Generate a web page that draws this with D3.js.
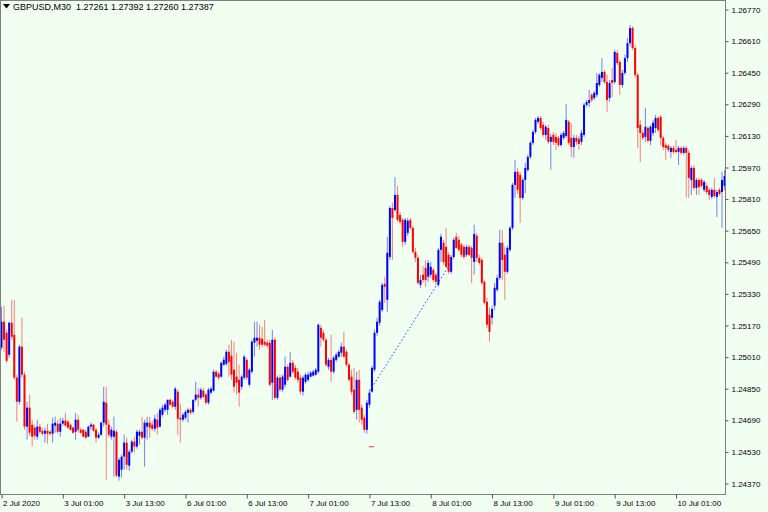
<!DOCTYPE html>
<html><head><meta charset="utf-8">
<script src="https://cdn.jsdelivr.net/npm/d3@7/dist/d3.min.js"></script>
<style>html,body{margin:0;padding:0;background:#f0fff0}svg{display:block}</style>
</head><body>
<svg id="chart" width="768" height="512"></svg>
<script>
// ---------- data ----------
const symbolTitle = "GBPUSD,M30";
const headerQuote = ["1.27261", "1.27392", "1.27260", "1.27387"];
const priceTicks = [1.26770, 1.26610, 1.26450, 1.26290, 1.26130, 1.25970, 1.25810, 1.25650,
                    1.25490, 1.25330, 1.25170, 1.25010, 1.24850, 1.24690, 1.24530, 1.24370];
const timeTickBars = [0, 24, 48, 72, 96, 120, 144, 168, 192, 216, 240, 264];
const timeTickLabels = ["2 Jul 2020", "3 Jul 01:00", "3 Jul 13:00", "6 Jul 01:00", "6 Jul 13:00", "7 Jul 01:00",
                        "7 Jul 13:00", "8 Jul 01:00", "8 Jul 13:00", "9 Jul 01:00", "9 Jul 13:00", "10 Jul 01:00"];

const open = [
1.25058,1.25189,1.25133,1.25022,1.25184,1.25123,1.24906,1.24784,1.25063,1.24921,
1.24658,1.24754,1.24668,1.24653,1.24607,1.24658,1.24637,1.24622,1.24637,1.24632,
1.24622,1.24663,1.24673,1.24632,1.24673,1.24688,1.24683,1.24668,1.24653,1.24632,
1.24693,1.24642,1.24642,1.24632,1.24607,1.24658,1.24668,1.24642,1.24602,1.24617,
1.24678,1.24779,1.24668,1.24607,1.24607,1.24632,1.24405,1.24440,1.24506,1.24577,
1.24460,1.24531,1.24582,1.24557,1.24612,1.24632,1.24602,1.24658,1.24678,1.24668,
1.24647,1.24693,1.24658,1.24718,1.24743,1.24743,1.24794,1.24784,1.24759,1.24835,
1.24703,1.24693,1.24703,1.24728,1.24743,1.24733,1.24794,1.24820,1.24804,1.24840,
1.24820,1.24779,1.24830,1.24840,1.24936,1.24926,1.24911,1.24971,1.24976,1.25037,
1.25017,1.24946,1.24911,1.24895,1.24860,1.24906,1.24996,1.24870,1.24936,1.25083,
1.25093,1.25108,1.25103,1.25088,1.25083,1.25083,1.24880,1.25098,1.24804,1.24906,
1.24845,1.24870,1.24961,1.24911,1.24981,1.24956,1.24936,1.24906,1.24835,1.24885,
1.24895,1.24911,1.24916,1.24921,1.24936,1.25158,1.25133,1.25098,1.24961,1.24996,
1.24936,1.24996,1.25012,1.25032,1.25063,1.25037,1.24971,1.24911,1.24845,1.24743,
1.24895,1.24754,1.24703,1.24642,1.24769,1.24835,1.24946,1.25133,1.25184,1.25249,
1.25381,1.25300,1.25517,1.25765,1.25755,1.25831,1.25730,1.25705,1.25594,1.25639,
1.25705,1.25664,1.25543,1.25513,1.25376,1.25427,1.25462,1.25417,1.25427,1.25452,
1.25427,1.25376,1.25553,1.25589,1.25568,1.25528,1.25442,1.25517,1.25619,1.25604,
1.25579,1.25568,1.25528,1.25568,1.25563,1.25492,1.25624,1.25513,1.25502,1.25391,
1.25290,1.25224,1.25209,1.25270,1.25351,1.25411,1.25589,1.25528,1.25442,1.25553,
1.25664,1.25882,1.25948,1.25933,1.25816,1.25907,1.25958,1.26024,1.26095,1.26150,
1.26201,1.26221,1.26186,1.26135,1.26170,1.26100,1.26135,1.26125,1.26120,1.26084,
1.26120,1.26130,1.26201,1.26120,1.26074,1.26120,1.26115,1.26100,1.26135,1.26287,
1.26297,1.26338,1.26322,1.26338,1.26388,1.26424,1.26454,1.26403,1.26322,1.26413,
1.26403,1.26550,1.26504,1.26388,1.26449,1.26524,1.26600,1.26676,1.26575,1.26439,
1.26186,1.26145,1.26125,1.26170,1.26105,1.26145,1.26170,1.26221,1.26226,1.26120,
1.26084,1.26079,1.26049,1.26069,1.26059,1.26049,1.26069,1.26044,1.26069,1.26044,
1.25907,1.25968,1.25867,1.25907,1.25907,1.25857,1.25877,1.25857,1.25821,1.25857,
1.25821,1.25857,1.25846,1.25877];
const high = [
1.25265,1.25270,1.25148,1.25189,1.25300,1.25300,1.24921,1.25073,1.25209,1.24936,
1.24784,1.24820,1.24693,1.24668,1.24693,1.24673,1.24653,1.24653,1.24673,1.24642,
1.24703,1.24708,1.24693,1.24703,1.24703,1.24728,1.24693,1.24673,1.24658,1.24728,
1.24718,1.24653,1.24647,1.24642,1.24663,1.24678,1.24673,1.24653,1.24627,1.24683,
1.24860,1.24860,1.24693,1.24658,1.24708,1.24642,1.24501,1.24516,1.24617,1.24602,
1.24541,1.24592,1.24607,1.24642,1.24642,1.24708,1.24693,1.24708,1.24708,1.24688,
1.24718,1.24728,1.24754,1.24769,1.24779,1.24794,1.24799,1.24794,1.24860,1.24845,
1.24774,1.24728,1.24743,1.24754,1.24754,1.24794,1.24885,1.24855,1.24855,1.24855,
1.24830,1.24855,1.24860,1.24946,1.24946,1.24936,1.24986,1.25012,1.25047,1.25073,
1.25098,1.25088,1.25032,1.24971,1.24921,1.25022,1.25007,1.24956,1.25098,1.25189,
1.25189,1.25174,1.25164,1.25199,1.25098,1.25098,1.25148,1.25108,1.24916,1.24921,
1.24921,1.25012,1.24971,1.25037,1.24996,1.24971,1.24956,1.24921,1.24916,1.24931,
1.24936,1.24941,1.24946,1.24956,1.25179,1.25174,1.25148,1.25108,1.25007,1.25123,
1.25017,1.25032,1.25047,1.25083,1.25138,1.25047,1.24981,1.24946,1.24956,1.24936,
1.24946,1.24769,1.24718,1.24794,1.24845,1.24966,1.25148,1.25209,1.25300,1.25386,
1.25416,1.25619,1.25775,1.25791,1.25922,1.25877,1.25745,1.25715,1.25715,1.25715,
1.25715,1.25674,1.25563,1.25528,1.25427,1.25472,1.25502,1.25502,1.25492,1.25462,
1.25437,1.25563,1.25634,1.25604,1.25664,1.25543,1.25528,1.25614,1.25639,1.25624,
1.25589,1.25579,1.25579,1.25579,1.25574,1.25680,1.25639,1.25528,1.25513,1.25401,
1.25310,1.25259,1.25270,1.25386,1.25427,1.25654,1.25654,1.25568,1.25574,1.25674,
1.25892,1.26008,1.25968,1.25948,1.25917,1.25993,1.26034,1.26105,1.26160,1.26221,
1.26231,1.26231,1.26201,1.26186,1.26186,1.26140,1.26150,1.26145,1.26130,1.26145,
1.26155,1.26292,1.26211,1.26196,1.26135,1.26135,1.26130,1.26160,1.26297,1.26312,
1.26363,1.26348,1.26358,1.26449,1.26449,1.26524,1.26464,1.26439,1.26413,1.26474,
1.26565,1.26565,1.26514,1.26464,1.26540,1.26626,1.26691,1.26686,1.26590,1.26449,
1.26211,1.26160,1.26272,1.26181,1.26186,1.26211,1.26236,1.26231,1.26236,1.26130,
1.26095,1.26089,1.26079,1.26079,1.26110,1.26079,1.26079,1.26079,1.26079,1.26059,
1.25978,1.25983,1.25917,1.25917,1.25917,1.25907,1.25892,1.25867,1.25867,1.25917,
1.25857,1.25867,1.25948,1.25958];
const low = [
1.25047,1.25037,1.24981,1.25007,1.25098,1.24895,1.24683,1.24769,1.24906,1.24642,
1.24592,1.24612,1.24557,1.24592,1.24592,1.24622,1.24612,1.24577,1.24572,1.24612,
1.24577,1.24627,1.24622,1.24607,1.24663,1.24658,1.24647,1.24637,1.24622,1.24592,
1.24627,1.24622,1.24607,1.24596,1.24607,1.24642,1.24632,1.24577,1.24596,1.24612,
1.24658,1.24389,1.24602,1.24592,1.24405,1.24400,1.24384,1.24400,1.24440,1.24440,
1.24435,1.24521,1.24526,1.24546,1.24567,1.24592,1.24455,1.24592,1.24602,1.24637,
1.24632,1.24617,1.24653,1.24708,1.24733,1.24718,1.24764,1.24754,1.24743,1.24617,
1.24577,1.24683,1.24693,1.24678,1.24718,1.24723,1.24784,1.24759,1.24794,1.24804,
1.24769,1.24769,1.24820,1.24835,1.24906,1.24895,1.24906,1.24966,1.24966,1.24911,
1.24895,1.24830,1.24820,1.24759,1.24845,1.24895,1.24895,1.24860,1.24926,1.25012,
1.25063,1.25047,1.25058,1.25063,1.25058,1.24860,1.24794,1.24794,1.24794,1.24835,
1.24835,1.24855,1.24885,1.24906,1.24926,1.24895,1.24880,1.24820,1.24815,1.24875,
1.24885,1.24906,1.24911,1.24916,1.24926,1.25063,1.25088,1.24961,1.24946,1.24885,
1.24926,1.24986,1.25007,1.25012,1.25007,1.24961,1.24885,1.24820,1.24723,1.24693,
1.24678,1.24668,1.24627,1.24622,1.24754,1.24830,1.24936,1.25118,1.25169,1.25239,
1.25285,1.25239,1.25502,1.25502,1.25745,1.25695,1.25680,1.25568,1.25578,1.25624,
1.25654,1.25533,1.25492,1.25376,1.25361,1.25386,1.25366,1.25391,1.25411,1.25391,
1.25376,1.25366,1.25492,1.25477,1.25462,1.25432,1.25432,1.25507,1.25558,1.25543,
1.25517,1.25507,1.25517,1.25522,1.25386,1.25427,1.25492,1.25477,1.25376,1.25275,
1.25158,1.25088,1.25174,1.25249,1.25341,1.25401,1.25401,1.25300,1.25432,1.25543,
1.25654,1.25816,1.25836,1.25690,1.25806,1.25841,1.25948,1.26013,1.26084,1.26140,
1.26191,1.26160,1.26125,1.26110,1.26089,1.25958,1.26084,1.26059,1.26074,1.26074,
1.26110,1.26120,1.26084,1.26024,1.26019,1.26084,1.26059,1.26084,1.26125,1.26277,
1.26277,1.26302,1.26312,1.26327,1.26378,1.26403,1.26393,1.26251,1.26302,1.26327,
1.26393,1.26489,1.26338,1.26373,1.26439,1.26504,1.26585,1.26565,1.26424,1.26069,
1.25998,1.26110,1.26100,1.26095,1.26084,1.26130,1.26145,1.26150,1.26084,1.26059,
1.26008,1.26049,1.26019,1.26039,1.26039,1.25983,1.26034,1.26034,1.25816,1.25816,
1.25831,1.25857,1.25831,1.25831,1.25867,1.25846,1.25836,1.25806,1.25811,1.25816,
1.25720,1.25826,1.25664,1.25857];
const close = [
1.25189,1.25098,1.24991,1.25184,1.25113,1.24906,1.24784,1.25063,1.24921,1.24658,
1.24754,1.24627,1.24607,1.24612,1.24658,1.24632,1.24622,1.24637,1.24622,1.24622,
1.24673,1.24678,1.24632,1.24673,1.24688,1.24663,1.24653,1.24642,1.24627,1.24693,
1.24642,1.24627,1.24607,1.24602,1.24658,1.24668,1.24637,1.24602,1.24617,1.24678,
1.24784,1.24668,1.24617,1.24642,1.24637,1.24410,1.24490,1.24506,1.24577,1.24465,
1.24531,1.24582,1.24557,1.24632,1.24632,1.24602,1.24678,1.24678,1.24653,1.24647,
1.24698,1.24653,1.24743,1.24754,1.24769,1.24794,1.24769,1.24759,1.24850,1.24698,
1.24693,1.24718,1.24733,1.24743,1.24728,1.24794,1.24820,1.24804,1.24845,1.24809,
1.24779,1.24845,1.24850,1.24936,1.24911,1.24906,1.24981,1.24996,1.25037,1.24986,
1.24921,1.24860,1.24880,1.24830,1.24911,1.25012,1.24906,1.24946,1.25088,1.25108,
1.25108,1.25073,1.25073,1.25073,1.25068,1.24870,1.25098,1.24804,1.24906,1.24845,
1.24911,1.24961,1.24895,1.24981,1.24936,1.24906,1.24895,1.24835,1.24906,1.24921,
1.24921,1.24931,1.24936,1.24946,1.25174,1.25108,1.25098,1.24971,1.24996,1.24936,
1.25007,1.25022,1.25037,1.25063,1.25012,1.24971,1.24895,1.24835,1.24733,1.24895,
1.24743,1.24693,1.24642,1.24779,1.24830,1.24956,1.25133,1.25189,1.25290,1.25376,
1.25366,1.25538,1.25765,1.25715,1.25831,1.25705,1.25695,1.25594,1.25705,1.25700,
1.25664,1.25543,1.25513,1.25386,1.25401,1.25401,1.25401,1.25487,1.25467,1.25401,
1.25391,1.25553,1.25619,1.25492,1.25467,1.25442,1.25517,1.25604,1.25563,1.25553,
1.25528,1.25517,1.25568,1.25528,1.25513,1.25634,1.25513,1.25487,1.25386,1.25285,
1.25174,1.25138,1.25254,1.25361,1.25411,1.25589,1.25502,1.25442,1.25563,1.25664,
1.25882,1.25948,1.25857,1.25816,1.25907,1.25968,1.26024,1.26095,1.26150,1.26211,
1.26221,1.26170,1.26135,1.26176,1.26100,1.26125,1.26100,1.26095,1.26084,1.26135,
1.26145,1.26211,1.26095,1.26074,1.26120,1.26100,1.26089,1.26145,1.26287,1.26302,
1.26312,1.26312,1.26348,1.26398,1.26439,1.26454,1.26403,1.26312,1.26398,1.26398,
1.26555,1.26499,1.26388,1.26449,1.26524,1.26600,1.26676,1.26575,1.26439,1.26170,
1.26145,1.26120,1.26176,1.26105,1.26176,1.26196,1.26221,1.26160,1.26120,1.26074,
1.26069,1.26059,1.26069,1.26049,1.26049,1.26069,1.26044,1.26069,1.26044,1.25917,
1.25968,1.25867,1.25907,1.25872,1.25877,1.25897,1.25846,1.25831,1.25857,1.25826,
1.25846,1.25836,1.25907,1.25927];

// user drawn objects (bar index, price)
const trendBars = [144.2, 176.3];
const trendPrices = [1.24840, 1.25497];
const markBars = [143.8, 145.8];
const markPrice = 1.24556;

// ---------- drawing ----------
const W = 768, H = 512;
const plotLeft = 0.5, plotTop = 0.5, plotRight = 725.5, plotBottom = 494.5;
const barStep = 2.555;
const svg = d3.select("#chart");
svg.append("rect").attr("width", W).attr("height", H).attr("fill", "#f0fff0");

const x = d3.scaleLinear().domain([0, 264]).range([1.5, 1.5 + 264 * barStep]);
const y = d3.scaleLinear().domain([1.24370, 1.26770]).range([483.5, 9.5]);

svg.append("clipPath").attr("id", "plotclip").append("rect")
  .attr("x", 1).attr("y", 1).attr("width", plotRight - 1).attr("height", plotBottom - 1);

const plot = svg.append("g").attr("clip-path", "url(#plotclip)");

const bars = d3.range(open.length).map(i => ({ i, o: open[i], h: high[i], l: low[i], c: close[i] }));
const bullCol = "#0000ff", bearCol = "#ff0000";
const colOf = d => d.c >= d.o ? bullCol : bearCol;

plot.append("g").selectAll("line").data(bars).join("line")
  .attr("x1", d => x(d.i)).attr("x2", d => x(d.i))
  .attr("y1", d => y(d.h)).attr("y2", d => y(d.l))
  .attr("stroke", colOf).attr("stroke-opacity", 0.5).attr("stroke-width", 1);

plot.append("g").selectAll("rect").data(bars).join("rect")
  .attr("x", d => x(d.i) - 1).attr("width", 2)
  .attr("y", d => Math.min(y(d.o), y(d.c)))
  .attr("height", d => Math.max(1, Math.abs(y(d.o) - y(d.c))))
  .attr("fill", colOf);

// trend line (dotted)
plot.append("line")
  .attr("x1", x(trendBars[0])).attr("y1", y(trendPrices[0]))
  .attr("x2", x(trendBars[1])).attr("y2", y(trendPrices[1]))
  .attr("stroke", "#2040ff").attr("stroke-width", 1).attr("stroke-dasharray", "1.5,2.2");

// small red level mark
plot.append("line")
  .attr("x1", x(markBars[0])).attr("x2", x(markBars[1]))
  .attr("y1", y(markPrice)).attr("y2", y(markPrice))
  .attr("stroke", "#ff3030").attr("stroke-width", 1);

// frame
svg.append("rect").attr("x", plotLeft).attr("y", plotTop)
  .attr("width", plotRight - plotLeft).attr("height", plotBottom - plotTop)
  .attr("fill", "none").attr("stroke", "#7f7f7f").attr("stroke-width", 1);

const fontFam = "'Liberation Sans', Arial, sans-serif";

// right price axis
const yAxis = d3.axisRight(y).tickValues(priceTicks).tickFormat(d3.format(".5f")).tickSize(3).tickPadding(3);
const ya = svg.append("g").attr("transform", `translate(${plotRight},0)`).call(yAxis);
ya.select(".domain").remove();
ya.selectAll(".tick line").attr("stroke", "#555");
ya.selectAll(".tick text").attr("fill", "#000").attr("font-size", "8px").attr("font-family", fontFam);

// bottom time axis
const xAxis = d3.axisBottom(x).tickValues(timeTickBars).tickFormat((d, i) => timeTickLabels[i]).tickSize(4).tickPadding(2);
const xa = svg.append("g").attr("transform", `translate(0,${plotBottom})`).call(xAxis);
xa.select(".domain").remove();
xa.selectAll(".tick line").attr("stroke", "#555");
xa.selectAll(".tick text").attr("fill", "#000").attr("font-size", "8px").attr("font-family", fontFam)
  .attr("text-anchor", "start").attr("x", 1);

// header
svg.append("path").attr("d", "M3,4 L10,4 L6.5,8.5 Z").attr("fill", "#000");
svg.append("text").attr("x", 13).attr("y", 10).attr("font-size", "9px").attr("font-family", fontFam)
  .attr("fill", "#000").attr("xml:space", "preserve")
  .text(symbolTitle + "  " + headerQuote.join(" "));
</script>
</body></html>
